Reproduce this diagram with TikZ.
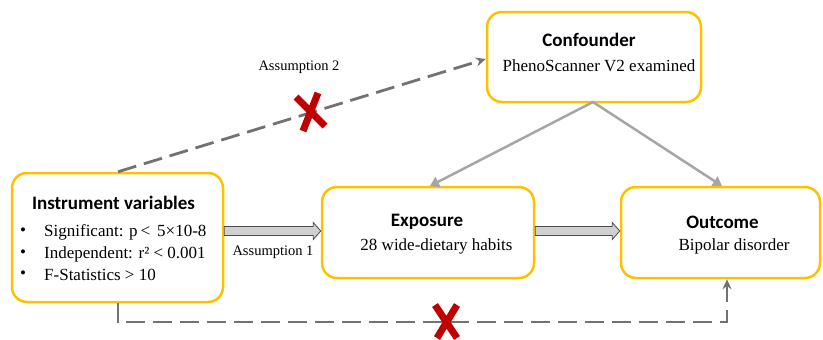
\documentclass[tikz,border=0pt]{standalone}
\usepackage{fontspec}
\setmainfont{Liberation Serif}
\newfontfamily\titlefont{Carlito}
\usetikzlibrary{arrows.meta,calc}
\definecolor{gold}{HTML}{FFC000}
\definecolor{dashgray}{HTML}{767171}
\definecolor{solidgray}{HTML}{A6A6A6}
\definecolor{fatfill}{HTML}{D0D0D0}
\definecolor{xred}{HTML}{C00000}
\tikzset{
  box/.style={draw=gold, line width=2.5pt, rounded corners=15pt, fill=white, inner sep=0pt},
  ttl/.style={font=\titlefont\bfseries\fontsize{19}{22}\selectfont, inner sep=0pt},
  body/.style={font=\fontsize{17}{20}\selectfont, inner sep=0pt},
  lbl/.style={font=\fontsize{14.5}{17}\selectfont, inner sep=0pt},
  dashline/.style={draw=dashgray, line width=2.8pt, dash pattern=on 19pt off 8pt},
  dashtip/.style={-{Stealth[length=10pt,width=9pt]}},
  solidarrow/.style={draw=solidgray, line width=2.5pt, -{Triangle[length=9pt,width=11pt]}},
  fat/.style={draw=black!70, line width=0.8pt, fill=fatfill},
  redx/.style={draw=xred, line width=7pt},
}
\newcommand{\fatarrow}[2]{%
  \draw[fat] ($(#1)+(0,-4.5)$) -- ($(#2)+(-7.5,-4.5)$) -- ($(#2)+(-7.5,-8.5)$) -- (#2)
    -- ($(#2)+(-7.5,8.5)$) -- ($(#2)+(-7.5,4.5)$) -- ($(#1)+(0,4.5)$) -- cycle;}
\begin{document}
\begin{tikzpicture}[x=1pt,y=-1pt]
\useasboundingbox (0,0) rectangle (823,340);
% boxes
\node[box, minimum width=211pt, minimum height=129pt] (iv) at (117.5,237.5) {};
\node[box, minimum width=212pt, minimum height=91pt] (exp) at (428,232.5) {};
\node[box, minimum width=199pt, minimum height=91pt] (out) at (720.5,232.5) {};
\node[box, minimum width=214pt, minimum height=90pt] (conf) at (594,57) {};
% texts
\node[ttl] (ivt) at (113.5,203) {Instrument variables};
\node[body] (b1) at (23,232) {\textbullet};
\node[body] (b2) at (23,254) {\textbullet};
\node[body] (b3) at (23,275) {\textbullet};
\node[body, anchor=west] (t1) at (44,232) {Significant: p\,<\ \,5×10-8};
\node[body, anchor=west] (t2) at (44,254) {Independent: r² < 0.001};
\node[body, anchor=west] (t3) at (44,275) {F-Statistics > 10};
\node[ttl] (expt) at (427,222) {Exposure};
\node[body] (exps) at (436.5,246) {28 wide-dietary habits};
\node[ttl] (outt) at (722.5,222) {Outcome};
\node[body] (outs) at (734,246) {Bipolar disorder};
\node[ttl] (conft) at (589,40) {Confounder};
\node[body] (confs) at (599,66) {PhenoScanner V2 examined};
\node[lbl] (a1) at (273,252) {Assumption 1};
\node[lbl] (a2) at (299,67) {Assumption 2};
% fat arrows
\coordinate (f1s) at (iv.east |- 0,231);
\coordinate (f1e) at (exp.west |- 0,231);
\coordinate (f2s) at (exp.east |- 0,231);
\coordinate (f2e) at (out.west |- 0,231);
\fatarrow{f1s}{f1e}
\fatarrow{f2s}{f2e}
% confounder arrows
\coordinate (cb) at (593,102);
\draw[solidarrow] (cb) -- (430,186);
\draw[solidarrow] (cb) -- (722,186);
% dashed assumption 2
\coordinate (d2s) at (iv.north -| 118,0);
\coordinate (d2e) at (conf.west |- 0,59);
\draw[dashline, dashtip] (d2s) -- (d2e);
% dashed bottom
\coordinate (d3s) at (iv.south -| 118,0);
\coordinate (d3e) at (out.south -| 727,0);
\draw[dashline, dashtip] (d3s) -- (118,322) -- (727,322) -- (d3e);
% red X marks
\draw[redx] (296,97) -- (325,126);
\draw[redx] (318,93) -- (303,131);
\draw[redx] (435,305) -- (457,338);
\draw[redx] (457,305) -- (437,338);
\end{tikzpicture}
\end{document}
